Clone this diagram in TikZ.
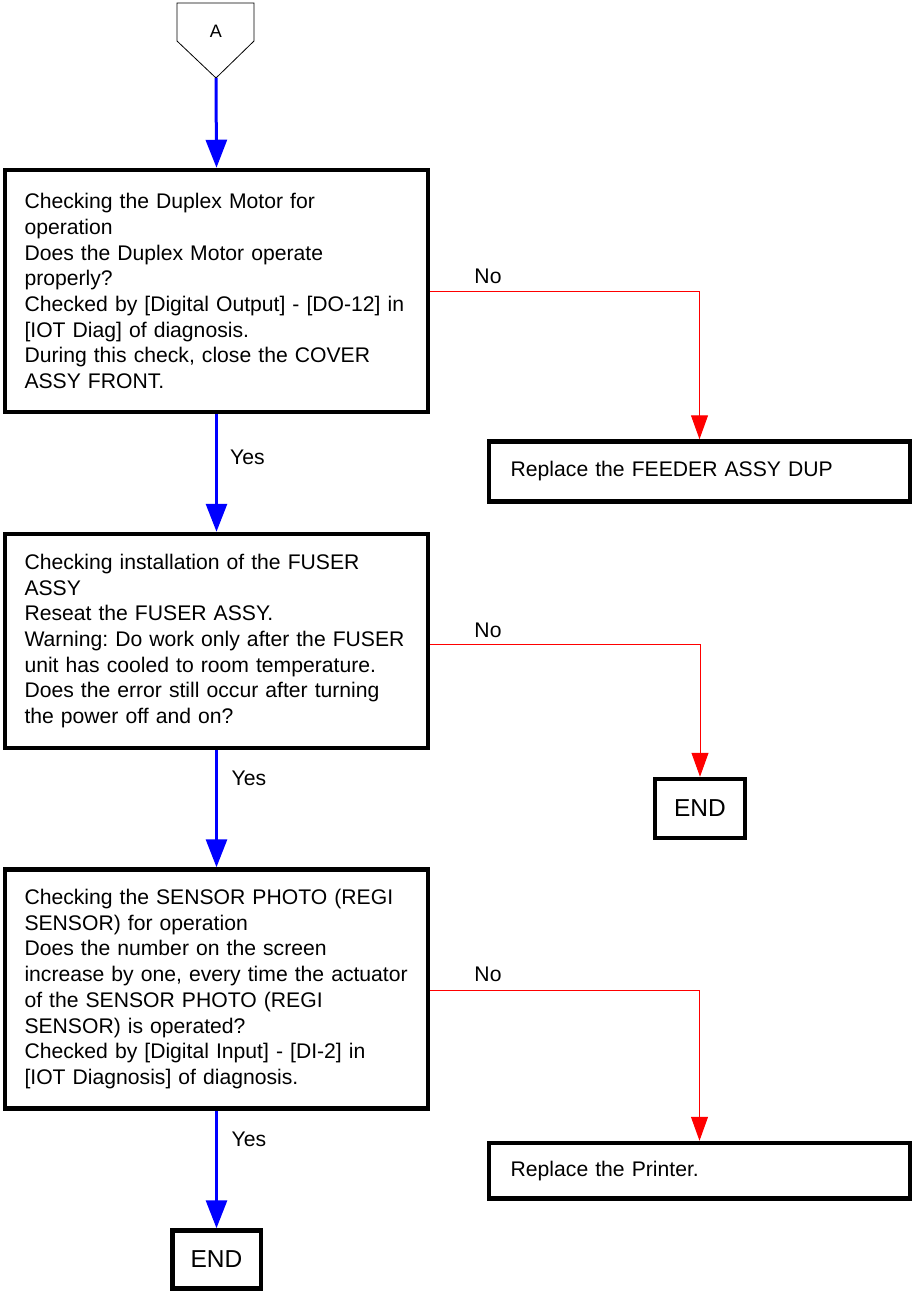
\documentclass[tikz,border=0pt]{standalone}
\usepackage{fontspec}
\setmainfont{Liberation Sans}
\usetikzlibrary{arrows.meta}
\frenchspacing
\begin{document}
\begin{tikzpicture}[x=1pt,y=-1pt,
  qbox/.style={draw, line width=4.5pt, rectangle, align=left, text width=384pt, inner xsep=19.5pt, inner ysep=0pt,
    font=\fontsize{21.15}{25.7}\selectfont},
  abox/.style={draw, line width=4.5pt, rectangle, align=left, text width=377.6pt, inner xsep=21.7pt, inner ysep=0pt,
    font=\fontsize{21.15}{25.7}\selectfont},
  endbox/.style={draw, line width=4.5pt, rectangle, minimum width=90pt, minimum height=59pt, inner sep=0pt,
    font=\fontsize{24.5}{29}\selectfont},
  lbl/.style={inner sep=0pt, font=\fontsize{21.15}{25.7}\selectfont},
  yesarrow/.style={draw=blue, line width=3pt, -{Triangle[width=21pt,length=28pt]}},
  noarrow/.style={draw=red, line width=1pt, -{Triangle[width=17pt,length=24pt]}}
]
\useasboundingbox (0,0) rectangle (914,1295);

% off-page connector A
\draw[line width=0.8pt] (177,3) -- (254,3) -- (254,41) -- (216,78) -- (177,41) -- cycle;
\coordinate (Atip) at (216,78);
\node[inner sep=0pt, font=\fontsize{18}{21}\selectfont] (A) at (216,31) {A};

% question boxes
\node[qbox, minimum height=242pt] (b1) at (216.5,291) {\mbox{Checking the Duplex Motor for}\\operation\\\mbox{Does the Duplex Motor operate}\\properly?\\\mbox{Checked by [Digital Output] - [DO-12] in}\\[0pt]\mbox{[IOT Diag] of diagnosis.}\\\mbox{During this check, close the COVER}\\\mbox{ASSY FRONT.}};
\node[qbox, minimum height=214pt] (b2) at (216.5,641) {\mbox{Checking installation of the FUSER}\\ASSY\\\mbox{Reseat the FUSER ASSY.}\\\mbox{Warning: Do work only after the FUSER}\\\mbox{unit has cooled to room temperature.}\\\mbox{Does the error still occur after turning}\\\mbox{the power off and on?}};
\node[qbox, minimum height=239pt] (b3) at (216.5,989) {\mbox{Checking the SENSOR PHOTO (REGI}\\\mbox{SENSOR) for operation}\\\mbox{Does the number on the screen}\\\mbox{increase by one, every time the actuator}\\\mbox{of the SENSOR PHOTO (REGI}\\\mbox{SENSOR) is operated?}\\\mbox{Checked by [Digital Input] - [DI-2] in}\\[0pt]\mbox{[IOT Diagnosis] of diagnosis.}};

% action boxes
\node[abox, minimum height=60pt] (r1) at (699.5,471.5) {Replace the FEEDER ASSY DUP};
\node[endbox] (e1) at (700,808.5) {END};
\node[abox, minimum height=55.5pt] (r3) at (699.5,1170.75) {Replace the Printer.};
\node[endbox, minimum width=88.5pt, minimum height=58pt] (e3) at (216.5,1259.5) {END};

% yes connectors
\draw[yesarrow] (Atip) -- (b1.north);
\draw[yesarrow] (b1.south) -- (b2.north);
\draw[yesarrow] (b2.south) -- (b3.north);
\draw[yesarrow] (b3.south) -- (e3.north);

% no connectors
\draw[noarrow] (b1.east) -| (r1.north);
\draw[noarrow] ([yshift=-3pt]b2.east) -| (e1.north);
\draw[noarrow] ([yshift=-1pt]b3.east) -| (r3.north);

% labels
\node[lbl, anchor=base west] (y1) at (230,464) {Yes};
\node[lbl, anchor=base west] (y2) at (231.5,785.7) {Yes};
\node[lbl, anchor=base west] (y3) at (231.5,1146.7) {Yes};
\node[lbl, anchor=base] (n1) at (488,283) {No};
\node[lbl, anchor=base] (n2) at (488,637) {No};
\node[lbl, anchor=base] (n3) at (488,981) {No};
\end{tikzpicture}
\end{document}
